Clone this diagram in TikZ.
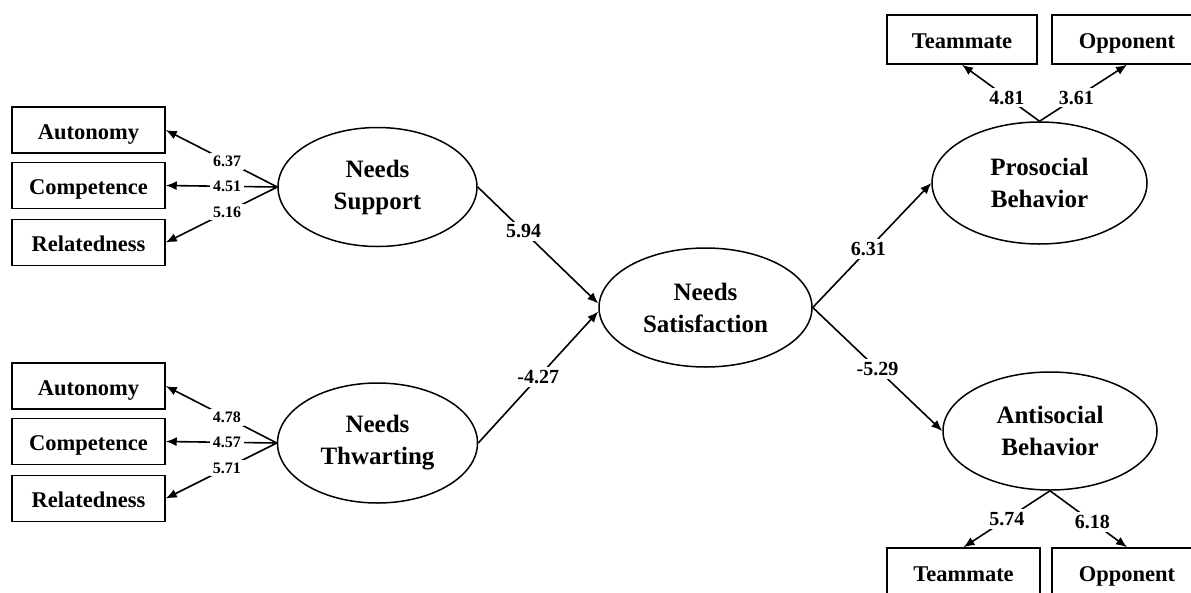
\documentclass[tikz,border=0pt]{standalone}
\usepackage{fontspec}
\setmainfont{Liberation Serif}
\usetikzlibrary{shapes.geometric,arrows.meta}
\begin{document}
\begin{tikzpicture}[x=1pt,y=-1pt,
  obs/.style={draw, line width=1.5pt, rectangle, inner sep=0pt, minimum height=46pt,
    text height=19pt, text depth=1pt,
    font=\bfseries\fontsize{22.5}{24}\selectfont},
  lat/.style={draw, line width=1.5pt, ellipse, inner sep=0pt, align=center,
    font=\bfseries\fontsize{25}{32}\selectfont},
  conn/.style={line width=1.6pt, -{Latex[length=11pt,width=9pt]}},
  wlab/.style={fill=white, inner sep=3pt, font=\bfseries\fontsize{20}{20}\selectfont},
  slab/.style={fill=white, inner sep=3pt, font=\bfseries\fontsize{16}{16}\selectfont}
]
\useasboundingbox (0,0) rectangle (1191,592);
\clip (0,0) rectangle (1191,592);

% left observed boxes
\node[obs, minimum width=153pt] (a1) at (88.5,130) {Autonomy};
\node[obs, minimum width=153pt] (c1) at (88.5,185.5) {Competence};
\node[obs, minimum width=153pt] (r1) at (88.5,242.5) {Relatedness};
\node[obs, minimum width=153pt] (a2) at (88.5,386) {Autonomy};
\node[obs, minimum width=153pt] (c2) at (88.5,441.5) {Competence};
\node[obs, minimum width=153pt] (r2) at (88.5,498.5) {Relatedness};

% latent ellipses
\node[lat, minimum width=199pt, minimum height=119pt] (ns) at (377.5,187) {Needs\\Support};
\node[lat, minimum width=200pt, minimum height=120pt] (nt) at (377.5,443) {Needs\\Thwarting};
\node[lat, minimum width=213pt, minimum height=119pt] (sat) at (705.5,307.5) {Needs\\Satisfaction};
\node[lat, minimum width=215pt, minimum height=122pt] (pro) at (1039.5,183) {Prosocial\\Behavior};
\node[lat, minimum width=214pt, minimum height=118pt] (anti) at (1050,431) {Antisocial\\Behavior};

% right observed boxes
\node[obs, minimum width=150pt, minimum height=49pt] (tt) at (962,39.5) {Teammate};
\node[obs, minimum width=150pt, minimum height=49pt] (ot) at (1127,39.5) {Opponent};
\node[obs, minimum width=153pt, minimum height=48pt] (tb) at (963.5,572) {Teammate};
\node[obs, minimum width=150pt, minimum height=48pt] (ob) at (1127,572) {Opponent};

% indicators of Needs Support
\draw[conn] (ns.west) -- node[slab, pos=0.45] {6.37} (a1.east);
\draw[conn] (ns.west) -- node[slab, pos=0.45] {4.51} (c1.east);
\draw[conn] (ns.west) -- node[slab, pos=0.45] {5.16} (r1.east);
% indicators of Needs Thwarting
\draw[conn] (nt.west) -- node[slab, pos=0.45] {4.78} (a2.east);
\draw[conn] (nt.west) -- node[slab, pos=0.45] {4.57} (c2.east);
\draw[conn] (nt.west) -- node[slab, pos=0.45] {5.71} (r2.east);

% structural paths
\draw[conn] (ns.east) -- node[wlab, pos=0.38] {5.94} ([yshift=4pt]sat.west);
\draw[conn] (nt.east) -- node[wlab, pos=0.5] {-4.27} ([yshift=-4pt]sat.west);
\draw[conn] (sat.east) -- node[wlab, pos=0.47] {6.31} (pro.west);
\draw[conn] (sat.east) -- node[wlab, pos=0.5] {-5.29} (anti.west);

% indicators of behaviours
\draw[conn] (pro.north) -- node[wlab, pos=0.42] {4.81} (tt.south);
\draw[conn] (pro.north) -- node[wlab, pos=0.42] {3.61} (ot.south);
\draw[conn] (anti.south) -- node[wlab, pos=0.5] {5.74} (tb.north);
\draw[conn] (anti.south) -- node[wlab, pos=0.55] {6.18} (ob.north);
\end{tikzpicture}
\end{document}
